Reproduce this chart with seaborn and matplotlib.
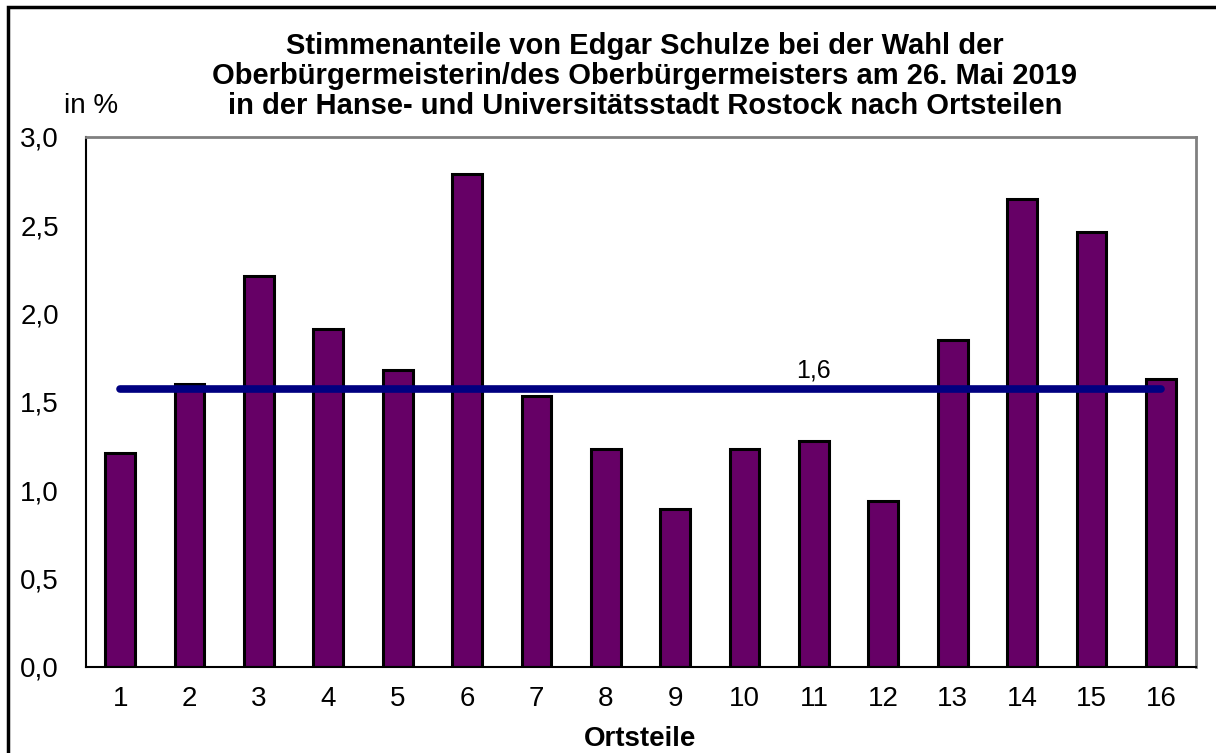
import numpy as np
import matplotlib
matplotlib.use('Agg')
import matplotlib.pyplot as plt
import matplotlib.patches as patches
import seaborn as sns

# ------------------------------
# Daten
# ------------------------------
ortsteile = [str(i) for i in range(1, 17)]
anteile = [1.21, 1.60, 2.21, 1.91, 1.68, 2.79, 1.53, 1.23,
           0.89, 1.23, 1.28, 0.94, 1.85, 2.65, 2.46, 1.63]
durchschnitt = 1.57
durchschnitt_label = '1,6'
y_ticks = [0.0, 0.5, 1.0, 1.5, 2.0, 2.5, 3.0]

titel = ('Stimmenanteile von Edgar Schulze bei der Wahl der\n'
         'Oberbürgermeisterin/des Oberbürgermeisters am 26. Mai 2019\n'
         'in der Hanse- und Universitätsstadt Rostock nach Ortsteilen')

sns.set_style('white')
plt.rcParams['font.family'] = ['Liberation Sans', 'DejaVu Sans']
plt.rcParams['text.color'] = 'black'
plt.rcParams['axes.labelcolor'] = 'black'

fig = plt.figure(figsize=(12.16, 7.53), dpi=100)
ax = fig.add_axes([85.5 / 1216, 1 - 666.5 / 753, (1195.5 - 85.5) / 1216, (666.5 - 137) / 753])

sns.barplot(x=ortsteile, y=anteile, color='#660066', edgecolor='black',
            linewidth=2.2, width=0.43, saturation=1, ax=ax)

# Durchschnittslinie
pos = np.arange(len(ortsteile))
ax.plot(pos, [durchschnitt] * len(pos), color='#000080', linewidth=5.5,
        solid_capstyle='round', zorder=5)
ax.text(pos[10], durchschnitt + 0.04, durchschnitt_label, ha='center', va='bottom',
        fontsize=18)

ax.set_xlim(-0.5, len(ortsteile) - 0.5)
ax.set_ylim(0, 3.0)
ax.set_yticks(y_ticks)
ax.set_yticklabels([f'{v:.1f}'.replace('.', ',') for v in y_ticks], fontsize=20)
ax.set_xticks(pos)
ax.set_xticklabels(ortsteile, fontsize=20)
ax.set_xticks(np.arange(-0.5, len(ortsteile)), minor=True)
ax.tick_params(axis='x', which='major', length=0, pad=14, labelcolor='black')
ax.tick_params(axis='x', which='minor', direction='inout', length=14,
               width=1, color='#404040')
ax.tick_params(axis='y', direction='out', length=8, width=1, color='#404040',
               pad=11, labelcolor='black')
ax.set_xlabel('Ortsteile', fontsize=20, fontweight='bold', labelpad=10)
ax.set_ylabel('')

for side in ['left', 'bottom']:
    ax.spines[side].set_color('black')
    ax.spines[side].set_linewidth(1.5)
for side in ['top', 'right']:
    ax.spines[side].set_color('#808080')
    ax.spines[side].set_linewidth(2)

fig.text(645 / 1216, 1 - 76 / 753, titel, ha='center', va='center',
         fontsize=21, fontweight='bold', linespacing=1.1)
fig.text(91 / 1216, 1 - 106 / 753, 'in %', ha='center', va='center', fontsize=20)

# Rahmen um die Grafik
fig.patches.append(patches.Rectangle((7.5 / 1216, -0.1), 1.2, 1.1 - 7 / 753,
                                     transform=fig.transFigure, fill=False,
                                     edgecolor='black', linewidth=2.5))

plt.savefig('out.png', dpi=100)
plt.close()
